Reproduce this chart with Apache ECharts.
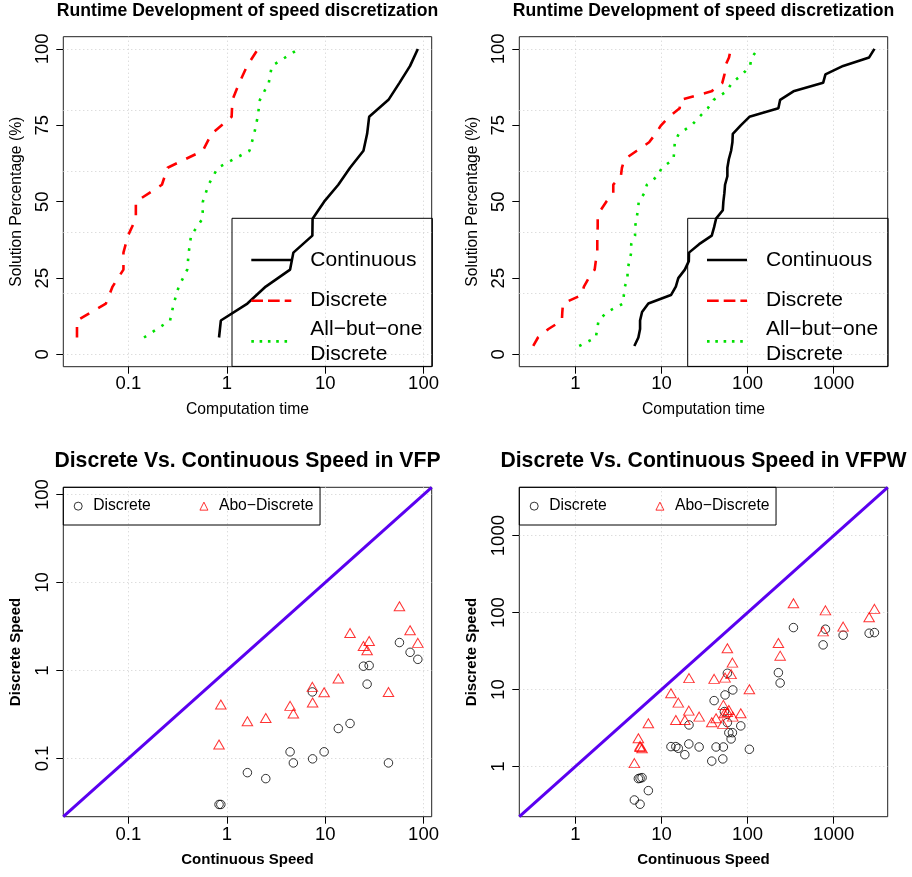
<!DOCTYPE html>
<html>
<head>
<meta charset="utf-8">
<title>Speed discretization</title>
<script src="https://cdn.jsdelivr.net/npm/echarts@6/dist/echarts.min.js"></script>
<style>
html, body { margin: 0; padding: 0; background: #fff; }
#chart { width: 912px; height: 877px; }
</style>
</head>
<body>
<div id="chart"></div>
<script>
// VFP instances (same order in the three arrays)
const vfpContinuous = [0.834, 0.87, 1.62, 2.49, 4.40, 4.75, 7.41, 7.45, 9.76, 13.6, 17.9, 24.5, 26.7, 28.0, 44.0, 56.9, 73.0, 87.5]
const vfpDiscrete = [0.030, 0.030, 0.069, 0.059, 0.119, 0.089, 0.571, 0.099, 0.119, 0.219, 0.25, 1.12, 0.70, 1.14, 0.089, 2.08, 1.61, 1.34]
const vfpAboDiscrete = [0.144, 0.41, 0.265, 0.289, 0.396, 0.325, 0.652, 0.433, 0.567, 0.81, 2.67, 1.90, 1.70, 2.17, 0.571, 5.38, 2.87, 2.06]

// VFPW instances
const vfpwContinuous = [4.85, 5.40, 5.65, 5.65, 5.96, 7.05, 12.9, 14.7, 15.7, 18.7, 20.8, 20.9, 27.4, 38.4, 40.9, 43.1, 51.6, 52.4, 53.8, 54.8, 58.3, 58.3, 60.6, 64.4, 66.7, 67.4, 83.4, 105, 228, 239, 341, 754, 802, 1287, 2580, 2972]
const vfpwDiscrete = [0.369, 0.699, 0.325, 0.707, 0.720, 0.488, 1.82, 1.82, 1.73, 1.43, 1.97, 3.48, 1.80, 1.18, 7.20, 1.80, 1.26, 1.80, 5.18, 8.53, 16.3, 3.73, 2.76, 2.29, 2.76, 9.91, 3.38, 1.68, 16.6, 12.2, 63.9, 38.1, 60.9, 50.9, 54.0, 55.0]
const vfpwAboDiscrete = [1.11, 2.34, 1.86, 1.80, 1.73, 3.66, 8.98, 4.04, 6.78, 4.04, 5.34, 14.1, 4.46, 3.77, 13.8, 4.25, 3.59, 6.33, 4.94, 14.3, 34.5, 5.13, 5.45, 15.9, 22.4, 4.46, 4.94, 10.1, 40.4, 27.6, 132.5, 57.0, 106.8, 65.8, 87.2, 111.7]

// axis ticks (log axes are in decades)
const percentTicks = [0, 25, 50, 75, 100]
const percentGridLines = [0, 20, 40, 60, 80, 100]
const vfpDecades = [-1, 0, 1, 2]
const vfpwDecades = [0, 1, 2, 3]
const vfpRange = [-1.662, 2.083]
const vfpwRange = [-0.650, 3.627]

const FONT = '"Liberation Sans", Arial, Helvetica, sans-serif'
const GRID_LINE = { show: true, lineStyle: { color: '#cfcfcf', width: 1, type: [1, 3] } }

function logLabel (v) {
  return String(Number(Math.pow(10, v).toPrecision(6)))
}

// solved percentage against time, as in the runtime plots
function ecdf (values) {
  const sorted = values.slice().sort((a, b) => a - b)
  return sorted.map((v, i) => [Math.log10(v), (i + 1) / sorted.length * 100])
}

function pairs (xs, ys) {
  return xs.map((x, i) => [Math.log10(x), Math.log10(ys[i])])
}

function xAxisFor (gridIndex, range, decades, name, bottom) {
  return {
    type: 'value',
    gridIndex,
    min: range[0],
    max: range[1],
    axisLine: { show: false, onZero: false },
    axisTick: { show: true, length: 7, customValues: decades, lineStyle: { color: '#000' } },
    axisLabel: {
      customValues: decades,
      formatter: logLabel,
      margin: bottom ? 8.5 : 7.5,
      color: '#000',
      fontSize: 18.5,
      fontFamily: FONT
    },
    splitLine: GRID_LINE,
    name,
    nameLocation: 'middle',
    nameGap: bottom ? 35.6 : 35.2,
    nameTextStyle: {
      color: '#000',
      fontFamily: FONT,
      fontSize: bottom ? 15 : 15.7,
      fontWeight: bottom ? 'bold' : 'normal'
    }
  }
}

function yLabelAxis (gridIndex, min, max, ticks, formatter, name, bottom, withGrid) {
  return {
    type: 'value',
    gridIndex,
    min,
    max,
    axisLine: { show: false, onZero: false },
    axisTick: { show: true, length: 7, customValues: ticks, lineStyle: { color: '#000' } },
    axisLabel: {
      customValues: ticks,
      formatter,
      rotate: 90,
      margin: 11,
      color: '#000',
      fontSize: 18.5,
      fontFamily: FONT
    },
    splitLine: withGrid ? GRID_LINE : { show: false },
    name,
    nameLocation: 'middle',
    nameGap: bottom ? 40 : 39,
    nameTextStyle: {
      color: '#000',
      fontFamily: FONT,
      fontSize: bottom ? 15 : 15.7,
      fontWeight: bottom ? 'bold' : 'normal'
    }
  }
}

// hidden axis that only carries the dotted grid of the runtime plots
function yGridAxis (gridIndex) {
  return {
    type: 'value',
    gridIndex,
    min: -4,
    max: 104,
    axisLine: { show: false, onZero: false },
    axisTick: { show: false, customValues: percentGridLines },
    axisLabel: { show: false },
    splitLine: GRID_LINE
  }
}

const ABO_NAME = 'All\u2212but\u2212one\nDiscrete'
const hiddenDot = { color: 'rgba(0,0,0,0)', borderWidth: 0, borderColor: 'rgba(0,0,0,0)' }

function runtimeLegend (left) {
  return {
    orient: 'vertical',
    left,
    top: 218.3,
    padding: [16.7, 10, 0, 18],
    itemWidth: 40,
    itemHeight: 14,
    itemGap: -9.3,
    borderColor: '#000',
    borderWidth: 1,
    backgroundColor: 'transparent',
    selectedMode: false,
    textStyle: { fontFamily: FONT, fontSize: 21, color: '#000', lineHeight: 25 },
    data: [
      {
        name: 'Continuous',
        itemStyle: hiddenDot,
        lineStyle: { color: '#000', width: 2.6, type: 'solid' },
        textStyle: { padding: [12.5, 0, 12.5, 14] }
      },
      {
        name: 'Discrete',
        itemStyle: hiddenDot,
        lineStyle: { color: '#ff0000', width: 2.6, type: [11.7, 5] },
        textStyle: { padding: [12.5, 0, 12.5, 14] }
      },
      {
        name: ABO_NAME,
        itemStyle: hiddenDot,
        lineStyle: { color: '#00e000', width: 2.6, type: [2.6, 5.7] },
        textStyle: { padding: [0, 0, 0, 14] }
      }
    ]
  }
}

function speedLegend (left) {
  return {
    orient: 'horizontal',
    left,
    top: 487.3,
    padding: [9.85, 6.5, 9.85, 10.4],
    itemWidth: 8,
    itemHeight: 8,
    itemGap: 48.7,
    borderColor: '#000',
    borderWidth: 1,
    backgroundColor: 'transparent',
    selectedMode: false,
    formatter: name => name.trim(),
    textStyle: { fontFamily: FONT, fontSize: 15.7, color: '#000', lineHeight: 18, padding: [0, 0, 0, 6] },
    data: [
      { name: 'Discrete ', icon: 'circle', itemStyle: { color: 'rgba(0,0,0,0)', borderColor: '#000', borderWidth: 1 } },
      { name: 'Abo\u2212Discrete', icon: 'triangle', itemStyle: { color: 'rgba(0,0,0,0)', borderColor: '#ff0000', borderWidth: 1 } }
    ]
  }
}

function runtimeSeries (xAxisIndex, yAxisIndex, cont, disc, abo) {
  const base = { type: 'line', xAxisIndex, yAxisIndex, showSymbol: false, symbol: 'none', silent: true }
  return [
    Object.assign({}, base, {
      name: 'Continuous',
      data: ecdf(cont),
      lineStyle: { color: '#000', width: 2.6 }
    }),
    Object.assign({}, base, {
      name: 'Discrete',
      data: ecdf(disc),
      lineStyle: { color: '#ff0000', width: 2.6, type: [10.4, 10.4] }
    }),
    Object.assign({}, base, {
      name: ABO_NAME,
      data: ecdf(abo),
      lineStyle: { color: '#00e000', width: 2.6, type: [2.6, 7.8] }
    })
  ]
}

function speedSeries (xAxisIndex, yAxisIndex, range, cont, disc, abo) {
  return [
    {
      name: 'Discrete ',
      type: 'scatter',
      xAxisIndex,
      yAxisIndex,
      symbol: 'circle',
      symbolSize: 8.5,
      itemStyle: { color: 'rgba(0,0,0,0)', borderColor: '#000', borderWidth: 1 },
      data: pairs(cont, disc)
    },
    {
      name: 'Abo\u2212Discrete',
      type: 'scatter',
      xAxisIndex,
      yAxisIndex,
      symbol: 'triangle',
      symbolSize: [10.5, 9],
      itemStyle: { color: 'rgba(0,0,0,0)', borderColor: '#ff0000', borderWidth: 1 },
      data: pairs(cont, abo)
    },
    {
      // y = x reference line
      name: 'equal',
      type: 'line',
      xAxisIndex,
      yAxisIndex,
      showSymbol: false,
      symbol: 'none',
      silent: true,
      lineStyle: { color: '#5a00f0', width: 3 },
      data: range.map(v => [v, v]),
      z: 3
    }
  ]
}

function titleAt (text, centerX, top, size) {
  return {
    text,
    left: centerX,
    top,
    textAlign: 'center',
    padding: 0,
    textStyle: { fontFamily: FONT, fontSize: size, fontWeight: 'bold', color: '#000' }
  }
}

const gridBox = { show: true, borderColor: '#222', borderWidth: 1, backgroundColor: 'transparent' }

const option = {
  animation: false,
  backgroundColor: '#fff',
  title: [
    titleAt('Runtime Development of speed discretization', 247.5, 2.5, 17.6),
    titleAt('Runtime Development of speed discretization', 703.5, 2.5, 17.6),
    titleAt('Discrete Vs. Continuous Speed in VFP', 247.5, 451, 21.2),
    titleAt('Discrete Vs. Continuous Speed in VFPW', 703.5, 451, 21.2)
  ],
  grid: [
    Object.assign({ left: 63.3, top: 36.7, width: 368.4, height: 330 }, gridBox),
    Object.assign({ left: 519.3, top: 36.7, width: 368.4, height: 330 }, gridBox),
    Object.assign({ left: 63.3, top: 487.3, width: 368.4, height: 329.4 }, gridBox),
    Object.assign({ left: 519.3, top: 487.3, width: 368.4, height: 329.4 }, gridBox)
  ],
  legend: [
    runtimeLegend(232),
    runtimeLegend(687.7),
    speedLegend(63.3),
    speedLegend(519.3)
  ],
  xAxis: [
    xAxisFor(0, vfpRange, vfpDecades, 'Computation time', false),
    xAxisFor(1, vfpwRange, vfpwDecades, 'Computation time', false),
    xAxisFor(2, vfpRange, vfpDecades, 'Continuous Speed', true),
    xAxisFor(3, vfpwRange, vfpwDecades, 'Continuous Speed', true)
  ],
  yAxis: [
    yLabelAxis(0, -4, 104, percentTicks, v => String(v), 'Solution Percentage (%)', false, false),
    yGridAxis(0),
    yLabelAxis(1, -4, 104, percentTicks, v => String(v), 'Solution Percentage (%)', false, false),
    yGridAxis(1),
    yLabelAxis(2, vfpRange[0], vfpRange[1], vfpDecades, logLabel, 'Discrete Speed', true, true),
    yLabelAxis(3, vfpwRange[0], vfpwRange[1], vfpwDecades, logLabel, 'Discrete Speed', true, true)
  ],
  series: [].concat(
    runtimeSeries(0, 0, vfpContinuous, vfpDiscrete, vfpAboDiscrete),
    runtimeSeries(1, 2, vfpwContinuous, vfpwDiscrete, vfpwAboDiscrete),
    speedSeries(2, 4, vfpRange, vfpContinuous, vfpDiscrete, vfpAboDiscrete),
    speedSeries(3, 5, vfpwRange, vfpwContinuous, vfpwDiscrete, vfpwAboDiscrete)
  )
}

const chart = echarts.init(document.getElementById('chart'), null, { renderer: 'canvas' })
chart.setOption(option)
window.addEventListener('resize', () => chart.resize())
</script>
</body>
</html>
